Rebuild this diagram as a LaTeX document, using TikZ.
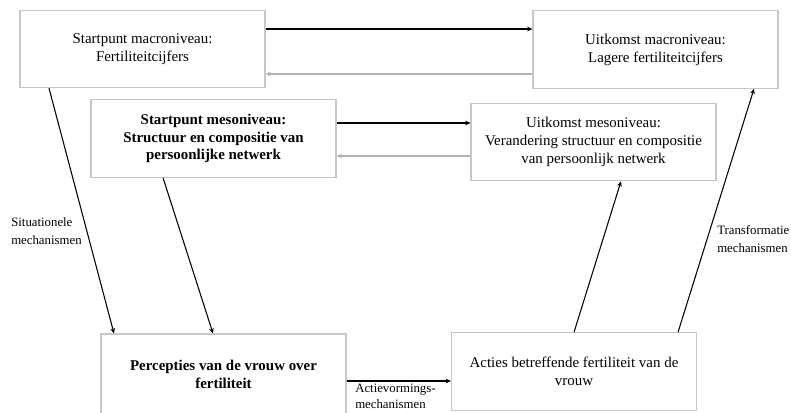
\documentclass[tikz,border=0pt]{standalone}
\usepackage{fontspec}
\setmainfont{Liberation Serif}
\usepackage{tikz}
\usetikzlibrary{arrows.meta,calc,positioning}
\definecolor{randgrijs}{rgb}{0.78,0.78,0.78}
\definecolor{lijngrijs}{rgb}{0.70,0.70,0.70}
\tikzset{
  vak/.style={
    draw=randgrijs,
    line width=0.8pt,
    fill=white,
    align=center,
    minimum width=183.75pt,
    minimum height=58pt,
    inner sep=3pt,
    font=\fontsize{11.2}{13.4}\selectfont
  },
  mech/.style={
    align=left,
    inner sep=0pt,
    anchor=north west,
    font=\fontsize{9.6}{13.5}\selectfont
  },
  pijl/.style={
    -{Stealth[length=4pt,width=3.5pt]},
    line width=0.8pt,
    black
  },
  terug/.style={
    -{Stealth[length=4pt,width=3.5pt]},
    line width=0.8pt,
    lijngrijs
  }
}

\begin{document}
\begin{tikzpicture}[x=0.75pt,y=-0.75pt]
\useasboundingbox (0,0) rectangle (791,412);
\node[vak] (macro) at (142.5,49) {Startpunt macroniveau:\\Fertiliteitcijfers};
\node[vak] (meso) at (213.5,138.5) {\textbf{Startpunt mesoniveau:}\\\textbf{Structuur en compositie van}\\\textbf{persoonlijke netwerk}};
\node[vak] (macrouit) at (655.5,49.5) {Uitkomst macroniveau:\\Lagere fertiliteitcijfers};
\node[vak] (mesouit) at (593.5,142) {Uitkomst mesoniveau:\\Verandering structuur en compositie\\van persoonlijk netwerk};
\node[vak, minimum height=60pt] (percep) at (223.5,374) {\textbf{Percepties van de vrouw over}\\\textbf{fertiliteit}};
\node[vak] (acties) at (574,371.5) {Acties betreffende fertiliteit van de\\vrouw};
% horizontale pijlen
\draw[pijl] (macro.east |- 0,29) -- (macrouit.west |- 0,29);
\draw[terug] (macrouit.west |- 0,74) -- (macro.east |- 0,74);
\draw[pijl] (meso.east |- 0,123) -- (mesouit.west |- 0,123);
\draw[terug] (mesouit.west |- 0,156) -- (meso.east |- 0,156);
\draw[pijl] (percep.east |- 0,381) -- (acties.west |- 0,381);
% schuine pijlen
\draw[pijl] (macro.south -| 49,0) -- (percep.north -| 114,0);
\draw[pijl] (meso.south -| 163,0) -- (percep.north -| 213,0);
\draw[pijl] (acties.north -| 574,0) -- (mesouit.south -| 621,0);
\draw[pijl] (acties.north -| 678,0) -- (macrouit.south -| 754,0);
% labels
\node[mech] (situ) at (11,217) {Situationele\\mechanismen};
\node[mech] (trans) at (717,225) {Transformatie\\mechanismen};
\node[mech, font=\fontsize{9.6}{11.5}\selectfont] (actie) at (355,384) {Actievormings-\\mechanismen};
\end{tikzpicture}
\end{document}
